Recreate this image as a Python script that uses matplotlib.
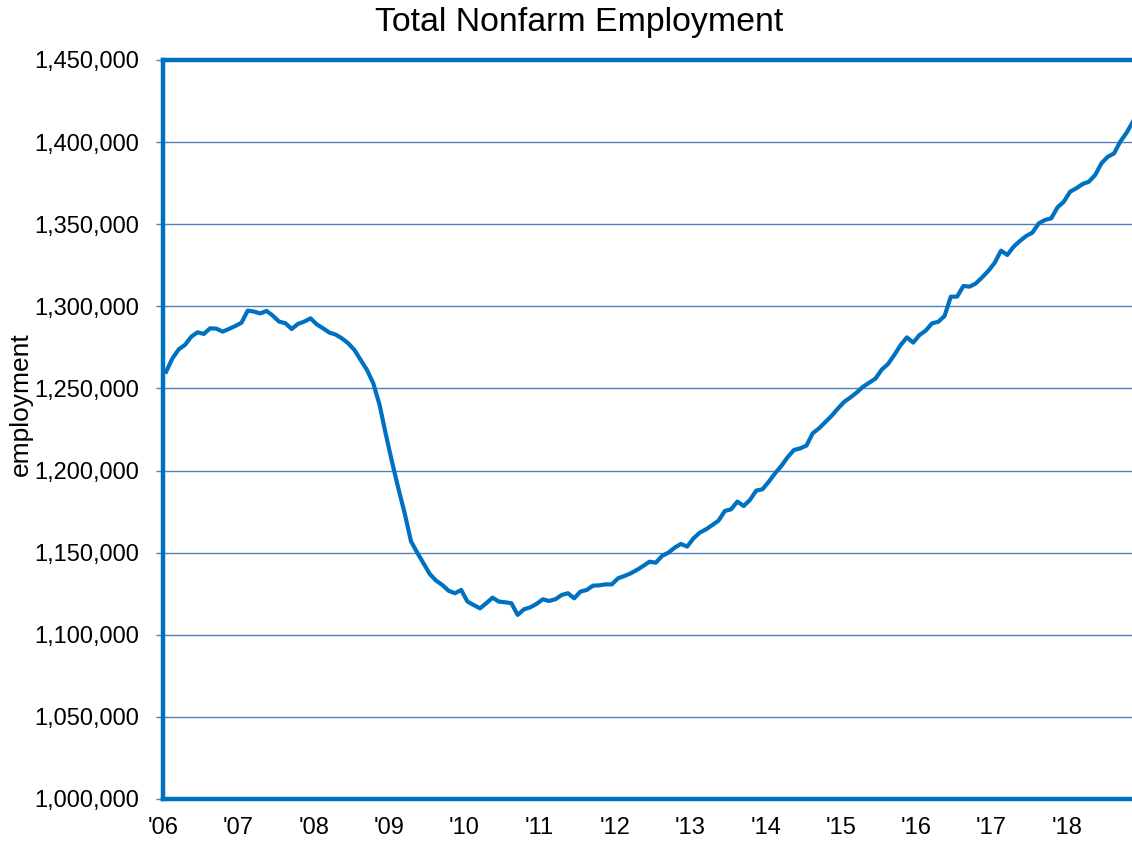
import matplotlib
matplotlib.use("Agg")
import matplotlib.pyplot as plt
from matplotlib.ticker import FuncFormatter, FixedLocator
import numpy as np

plt.rcParams['font.family'] = ['Liberation Sans', 'DejaVu Sans']

title = "Total Nonfarm Employment"
y_label = "employment"
year_labels = ["'06", "'07", "'08", "'09", "'10", "'11", "'12", "'13", "'14", "'15", "'16", "'17", "'18"]

# Monthly values, Jan 2006 onward
employment = [
    1260200, 1268300, 1273800, 1276500, 1281500, 1284200, 1283200, 1286600, 1286400, 1284600, 1286200, 1288000,
    1290000, 1297400, 1296800, 1295700, 1297200, 1294300, 1290700, 1289700, 1286200, 1289300, 1290700, 1292700,
    1289000, 1286600, 1284000, 1282800, 1280500, 1277500, 1273400, 1267300, 1261200, 1253100, 1240000, 1222000,
    1205000, 1189000, 1174000, 1157000, 1150000, 1143500, 1137000, 1133000, 1130300, 1126800, 1125300, 1127300,
    1120200, 1118100, 1116100, 1119200, 1122600, 1120200, 1119800, 1119200, 1112100, 1115500, 1116700, 1118800,
    1121600, 1120600, 1121600, 1124200, 1125300, 1122200, 1126300, 1127300, 1129900, 1130100, 1130700, 1130700,
    1134400, 1135800, 1137400, 1139500, 1141900, 1144500, 1143900, 1148000, 1150000, 1153000, 1155300, 1153700,
    1158700, 1162200, 1164200, 1166800, 1169500, 1175400, 1176400, 1181100, 1178400, 1182100, 1187800, 1188600,
    1193200, 1198300, 1202800, 1208100, 1212500, 1213500, 1215200, 1222700, 1225700, 1229500, 1233300, 1237700,
    1241800, 1244500, 1247500, 1251000, 1253500, 1256000, 1261500, 1264900, 1270400, 1276400, 1281100, 1277900,
    1282500, 1285200, 1289600, 1290600, 1294100, 1305900, 1305900, 1312400, 1312000, 1314000, 1317700, 1321700,
    1326600, 1333900, 1331300, 1336300, 1339800, 1342800, 1344900, 1350500, 1352600, 1353600, 1360300, 1363700,
    1369800, 1371900, 1374500, 1375900, 1380000, 1387100, 1391100, 1393100, 1400300, 1405700, 1412400,
]

y_ticks = [1000000, 1050000, 1100000, 1150000, 1200000, 1250000, 1300000, 1350000, 1400000, 1450000]

W, H = 1132, 842
fig = plt.figure(figsize=(W / 100, H / 100), dpi=100)
left_px, right_px, top_px, bottom_px = 163, 1136, 60, 799
ax = fig.add_axes([left_px / W, 1 - bottom_px / H, (right_px - left_px) / W, (bottom_px - top_px) / H])

blue = '#0070C0'
grid_blue = '#4F81BD'
x = np.arange(len(employment))
ax.plot(x, employment, color=blue, lw=3.0, solid_joinstyle='round', zorder=3)

ax.set_xlim(-0.5, len(employment) - 0.5)
ax.set_ylim(y_ticks[0], y_ticks[-1])
ax.yaxis.set_major_locator(FixedLocator(y_ticks))
ax.yaxis.set_major_formatter(FuncFormatter(lambda v, p: f"{int(v):,}"))
ax.set_xticks([12 * i - 0.5 for i in range(len(year_labels))])
ax.set_xticklabels(year_labels)

ax.grid(axis='y', color=grid_blue, lw=1.0, zorder=1)
ax.set_axisbelow(True)
for side in ['left', 'top', 'bottom', 'right']:
    ax.spines[side].set_color(blue)
    ax.spines[side].set_linewidth(3.2)
ax.tick_params(axis='y', length=5, width=1, color=grid_blue, pad=12, labelsize=17)
ax.tick_params(axis='x', length=0, pad=13, labelsize=17)

ax.set_ylabel(y_label, fontsize=19)
ax.yaxis.set_label_coords(-0.134, 0.535)

fig.text(579 / W, 1 - 23 / H, title, ha='center', va='center', fontsize=24.4)

fig.savefig('out.png', dpi=100)
